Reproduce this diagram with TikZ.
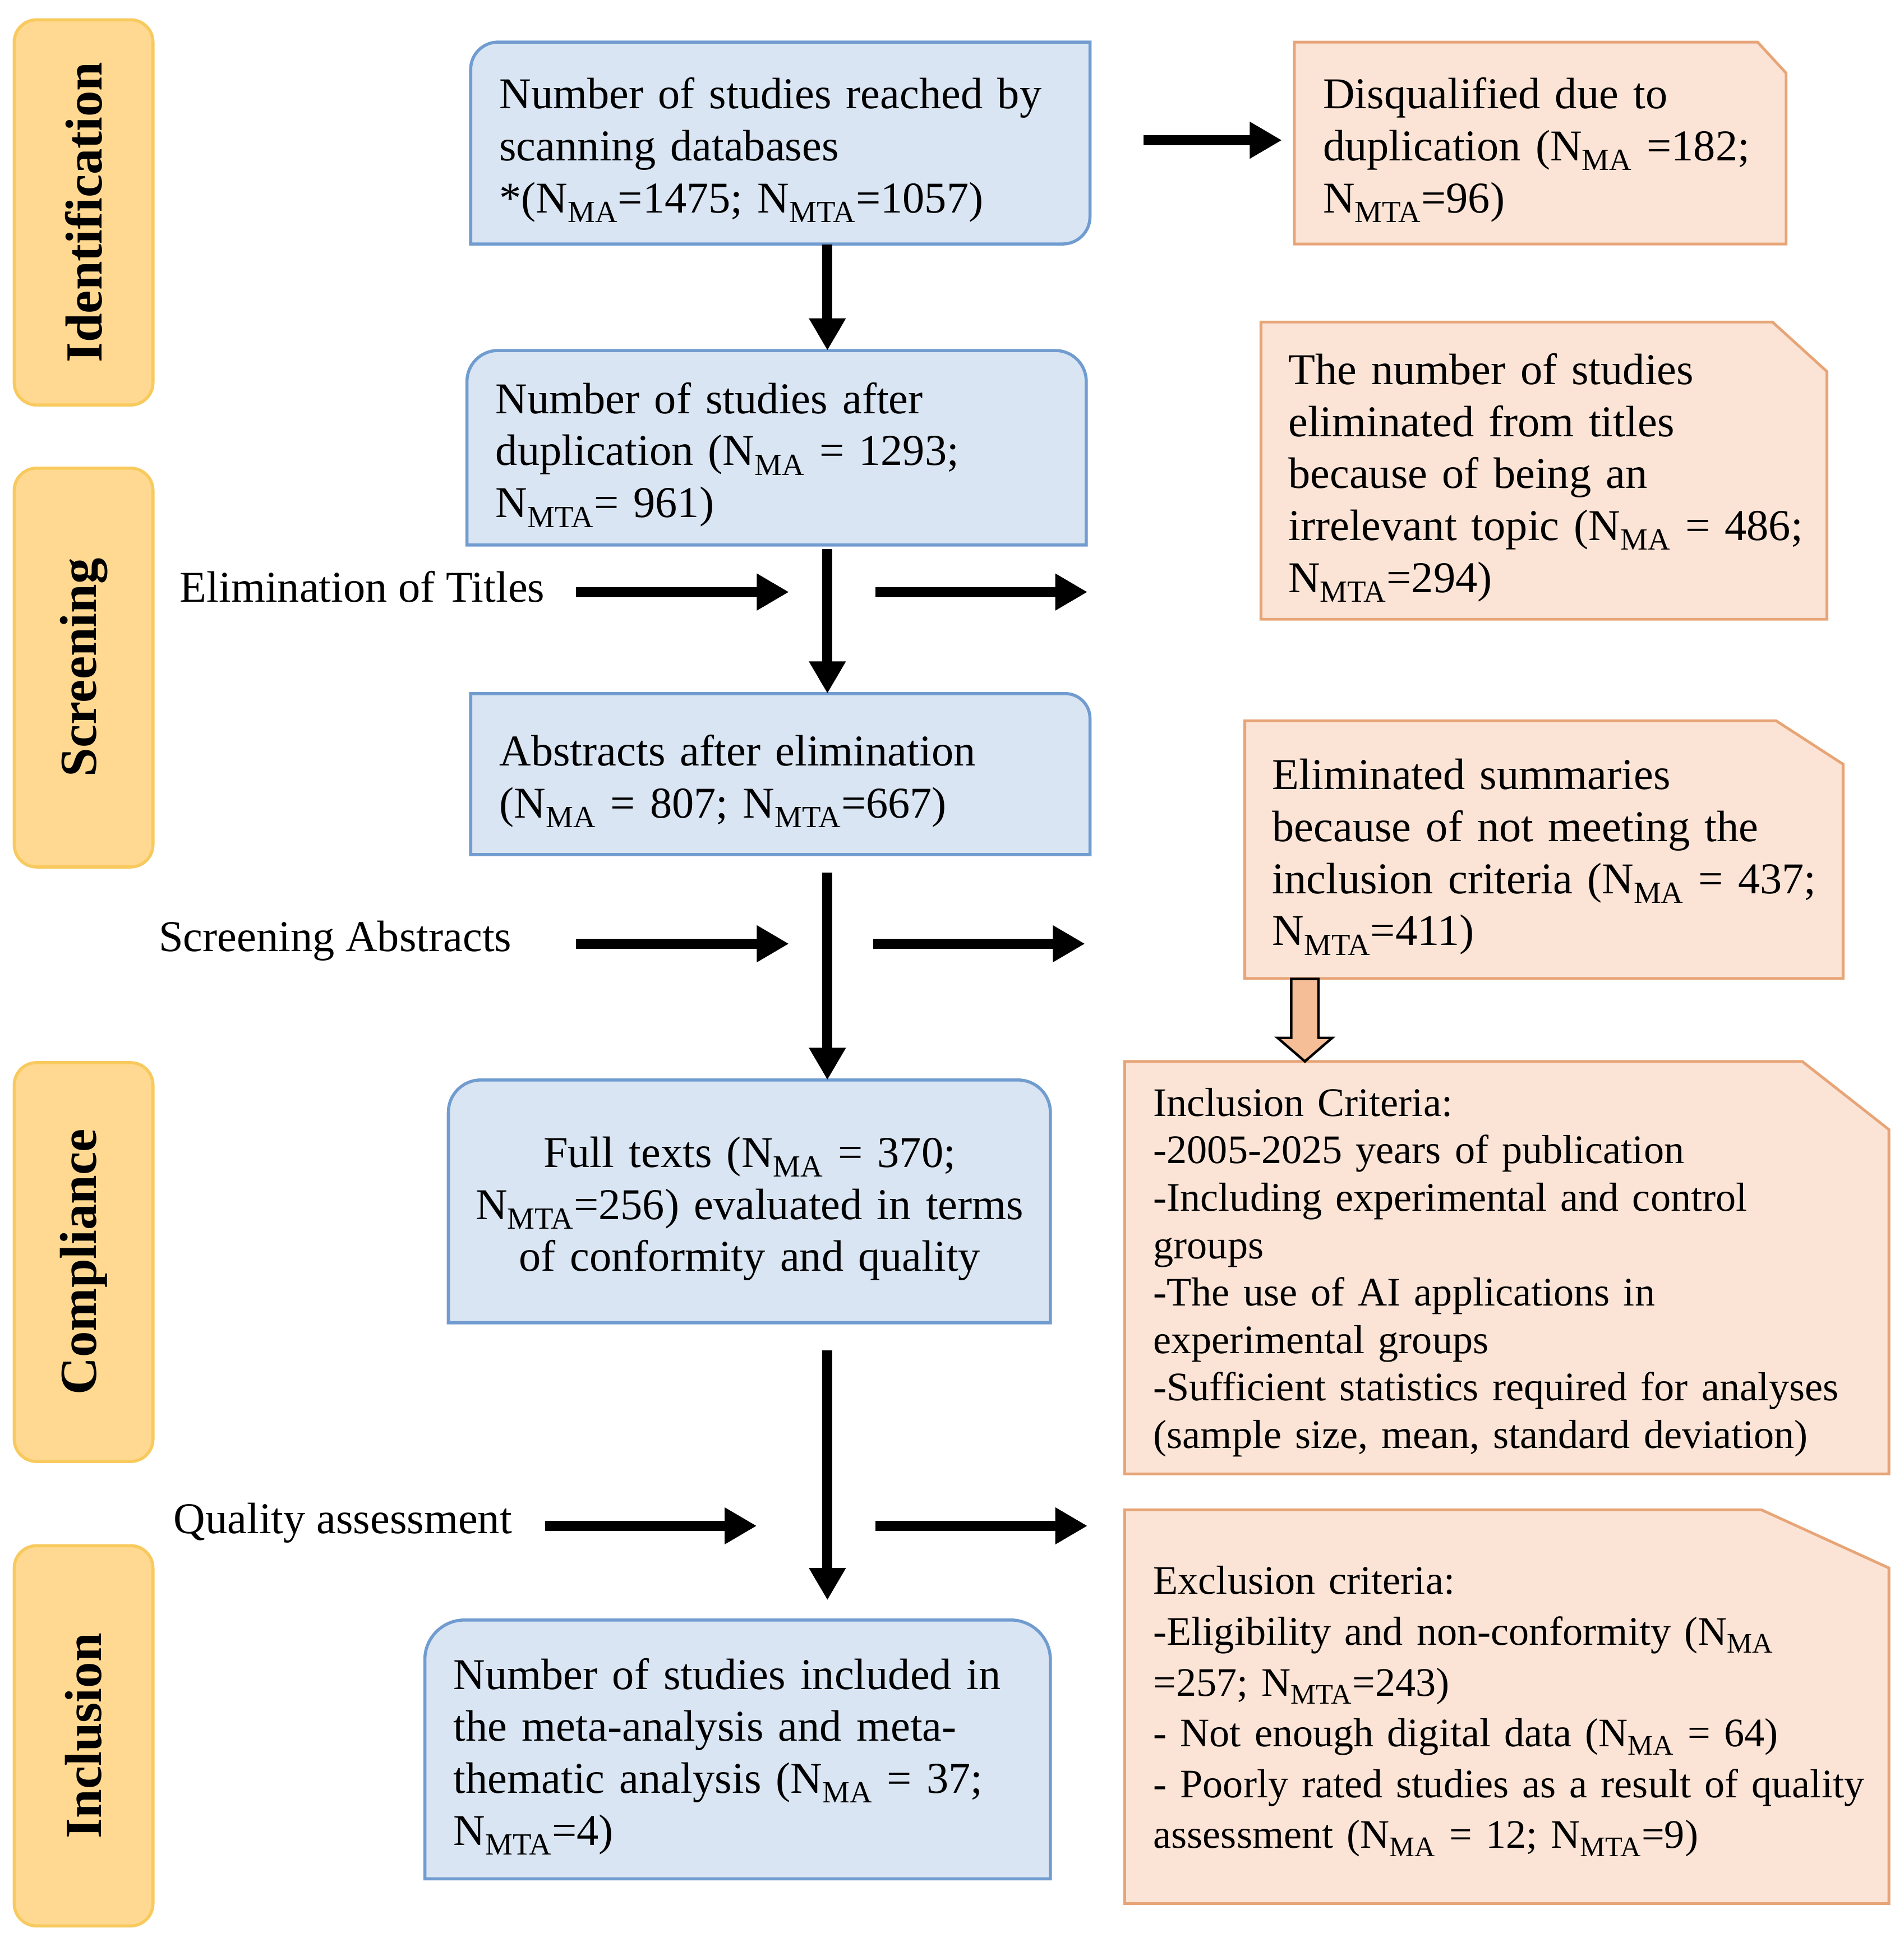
\documentclass[tikz,border=0pt]{standalone}
\usepackage{fontspec}
\setmainfont{Liberation Serif}
\usetikzlibrary{arrows.meta,calc}
\definecolor{bluefill}{HTML}{DAE5F3}
\definecolor{blueline}{HTML}{719CD0}
\definecolor{orfill}{HTML}{FBE4D6}
\definecolor{orline}{HTML}{E7A577}
\definecolor{stfill}{HTML}{FFD991}
\definecolor{stline}{HTML}{F8CA5E}
\definecolor{hollowfill}{HTML}{F5BE96}
\newcommand{\NMA}{N\textsubscript{MA}}
\newcommand{\NMTA}{N\textsubscript{MTA}}
\newcommand{\fbig}{\fontsize{35.5}{42}\selectfont}
\newcommand{\fcrit}{\fontsize{32.7}{38.3}\selectfont}
\newcommand{\fexcl}{\fontsize{32.7}{41}\selectfont}
\newcommand{\tstrut}{\rule{0pt}{36pt}}
\newcommand{\sstrut}{\rule{0pt}{30pt}}
% style, x1, y1, x2, y2, rTL, rTR, rBR, rBL  (image coordinates, y downwards)
\newcommand{\cornerbox}[9]{%
  \path[#1] ({#2+#6},#3) -- ({#4-#7},#3)
    .. controls ({#4-0.4477*#7},#3) and (#4,{#3+0.4477*#7}) .. (#4,{#3+#7})
    -- (#4,{#5-#8})
    .. controls (#4,{#5-0.4477*#8}) and ({#4-0.4477*#8},#5) .. ({#4-#8},#5)
    -- ({#2+#9},#5)
    .. controls ({#2+0.4477*#9},#5) and (#2,{#5-0.4477*#9}) .. (#2,{#5-#9})
    -- (#2,{#3+#6})
    .. controls (#2,{#3+0.4477*#6}) and ({#2+0.4477*#6},#3) .. ({#2+#6},#3)
    -- cycle;}
\begin{document}
\begin{tikzpicture}[x=1pt,y=-1pt,
  bluebox/.style={fill=bluefill,draw=blueline,line width=2.5pt},
  orbox/.style={fill=orfill,draw=orline,line width=2.2pt,line join=miter},
  txtbox/.style={anchor=north west,inner xsep=23pt,inner ysep=0pt,align=left,font=\fbig},
  stage/.style={rotate=90,minimum height=112pt,rounded corners=18pt,fill=stfill,
    draw=stline,line width=2.5pt,font=\fontsize{42}{50}\selectfont\bfseries,inner sep=0pt},
  lbl/.style={anchor=base west,inner sep=0pt,font=\fbig},
  arr/.style={line width=8pt,-{Triangle[length=26pt,width=28pt]}},
  hollow/.style={fill=hollowfill,draw=black,line width=2pt,line join=miter}]
\useasboundingbox (0,0) rectangle (1537,1568);
\fill[white] (0,0) rectangle (1537,1568);

% stage labels
\node[stage,minimum width=311pt] (s1) at (67.5,171.5) {Identification};
\node[stage,minimum width=322pt] (s2) at (67.5,539) {Screening};
\node[stage,minimum width=322pt] (s3) at (67.5,1019) {Compliance};
\node[stage,minimum width=307pt] (s4) at (67.5,1401.5) {Inclusion};

% box backgrounds
\cornerbox{bluebox}{380}{34}{880}{197}{22}{0}{22}{0}
\cornerbox{bluebox}{377}{283}{877}{440}{25}{25}{0}{0}
\cornerbox{bluebox}{380}{560}{880}{690}{0}{20}{0}{0}
\cornerbox{bluebox}{362}{872}{848}{1068}{26}{26}{0}{0}
\cornerbox{bluebox}{343}{1308}{848}{1517}{32}{32}{0}{0}
\draw[orbox] (1045,34) -- (1419,34) -- (1442,59) -- (1442,197) -- (1045,197) -- cycle;
\draw[orbox] (1018,260) -- (1431,260) -- (1475,300) -- (1475,500) -- (1018,500) -- cycle;
\draw[orbox] (1005,582) -- (1434,582) -- (1488,617) -- (1488,790) -- (1005,790) -- cycle;
\draw[orbox] (908,857) -- (1455,857) -- (1525,912) -- (1525,1190) -- (908,1190) -- cycle;
\draw[orbox] (908,1219) -- (1422,1219) -- (1525,1266) -- (1525,1537) -- (908,1537) -- cycle;

% main flow nodes
\node[txtbox,minimum width=500pt,text width=454pt,minimum height=163pt] (A) at (380,34)
  {\tstrut Number of studies reached by\\scanning databases\\{}*(\NMA{}=1475; \NMTA{}=1057)};
\node[txtbox,minimum width=500pt,text width=454pt,minimum height=157pt] (B) at (377,283)
  {\tstrut Number of studies after\\duplication (\NMA{} = 1293;\\\NMTA{}= 961)};
\node[txtbox,minimum width=500pt,text width=454pt,minimum height=130pt] (C) at (380,560)
  {\tstrut Abstracts after elimination\\(\NMA{} = 807; \NMTA{}=667)};
\node[txtbox,align=center,inner xsep=10pt,minimum width=486pt,text width=466pt,minimum height=196pt] (D) at (362,872)
  {\tstrut Full texts (\NMA{} = 370;\\\mbox{\NMTA{}=256) evaluated in terms}\\of conformity and quality};
\node[txtbox,minimum width=505pt,text width=459pt,minimum height=209pt] (E) at (343,1308)
  {\tstrut Number of studies included in\\the meta-analysis and meta-\\thematic analysis (\NMA{} = 37;\\\NMTA{}=4)};

% side nodes
\node[txtbox,minimum width=397pt,text width=351pt,minimum height=163pt] (O1) at (1045,34)
  {\tstrut Disqualified due to\\duplication (\NMA{} =182;\\\NMTA{}=96)};
\node[txtbox,inner xsep=22pt,minimum width=457pt,text width=413pt,minimum height=240pt] (O2) at (1018,260)
  {\tstrut The number of studies\\eliminated from titles\\because of being an\\\mbox{irrelevant topic (\NMA{} = 486;}\\\NMTA{}=294)};
\node[txtbox,inner xsep=22pt,minimum width=483pt,text width=439pt,minimum height=208pt] (O3) at (1005,582)
  {\tstrut Eliminated summaries\\because of not meeting the\\\mbox{inclusion criteria (\NMA{} = 437;}\\\NMTA{}=411)};
\node[txtbox,font=\fcrit,minimum width=617pt,text width=571pt,minimum height=333pt] (O4) at (908,857)
  {\sstrut Inclusion Criteria:\\-2005-2025 years of publication\\-Including experimental and control\\groups\\-The use of AI applications in\\experimental groups\\\mbox{-Sufficient statistics required for analyses}\\(sample size, mean, standard deviation)};
\node[txtbox,font=\fexcl,minimum width=617pt,text width=571pt,minimum height=318pt] (O5) at (908,1219)
  {\sstrut Exclusion criteria:\\-Eligibility and non-conformity (\NMA\\=257; \NMTA{}=243)\\- Not enough digital data (\NMA{} = 64)\\\mbox{- Poorly rated studies as a result of quality}\\assessment (\NMA{} = 12; \NMTA{}=9)};

% step labels
\node[lbl] (L1) at (145,486) {Elimination of Titles};
\node[lbl] (L2) at (128,768) {Screening Abstracts};
\node[lbl] (L3) at (140,1238) {Quality assessment};

% connectors
\coordinate (cx) at (668,0);
\coordinate (hx) at (1053.5,0);
\draw[arr] (A.south -| cx) -- (B.north -| cx);
\draw[arr] ($(B.south -| cx)+(0,3)$) -- (C.north -| cx);
\draw[arr] ($(C.south -| cx)+(0,14)$) -- (D.north -| cx);
\draw[arr] ($(D.south -| cx)+(0,22)$) -- ($(E.north -| cx)+(0,-16)$);
\draw[arr] ($(A.east)+(43,-2.5)$) -- ($(O1.west)+(-10,-2.5)$);

\coordinate (t1a) at (465,478); \coordinate (t1b) at (637,478);
\coordinate (t1c) at (707,478); \coordinate (t1d) at (878,478);
\coordinate (t2a) at (465,762); \coordinate (t2b) at (637,762);
\coordinate (t2c) at (705,762); \coordinate (t2d) at (876,762);
\coordinate (t3a) at (440,1232); \coordinate (t3b) at (611,1232);
\coordinate (t3c) at (707,1232); \coordinate (t3d) at (878,1232);
\draw[arr] (t1a) -- (t1b); \draw[arr] (t1c) -- (t1d);
\draw[arr] (t2a) -- (t2b); \draw[arr] (t2c) -- (t2d);
\draw[arr] (t3a) -- (t3b); \draw[arr] (t3c) -- (t3d);

% hollow arrow from O3 to O4
\draw[hollow] ($(O3.south -| hx)+(-11,0)$) -- ($(O4.north -| hx)+(-11,-19)$)
  -- ($(O4.north -| hx)+(-22,-19)$) -- (O4.north -| hx)
  -- ($(O4.north -| hx)+(22,-19)$) -- ($(O4.north -| hx)+(11,-19)$)
  -- ($(O3.south -| hx)+(11,0)$) -- cycle;
\end{tikzpicture}
\end{document}
